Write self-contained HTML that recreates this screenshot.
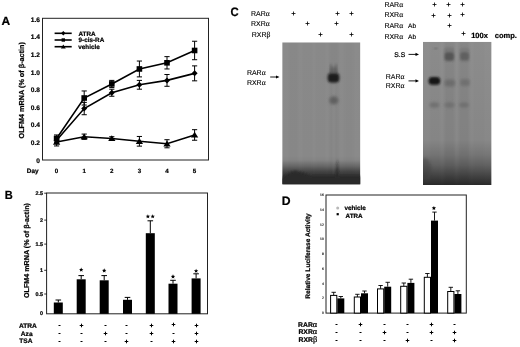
<!DOCTYPE html>
<html><head><meta charset="utf-8"><style>
html,body{margin:0;padding:0;background:#fff;width:520px;height:347px;overflow:hidden}
svg{display:block;font-family:"Liberation Sans", sans-serif}
text{opacity:0.995;text-rendering:geometricPrecision}
text[font-weight=bold]{stroke:#000;stroke-width:0.22px}
text[font-weight=normal]{stroke:#000;stroke-width:0.12px}
</style></head><body>
<svg width="520" height="347" viewBox="0 0 520 347">
<rect width="520" height="347" fill="#fff"/>
<text x="1.5" y="25.2" font-size="12" font-weight="bold" text-anchor="start" >A</text>
<rect x="42.5" y="18.3" width="166.0" height="141.7" fill="none" stroke="#222" stroke-width="1"/>
<text x="39.9" y="162.5" font-size="6.6" font-weight="bold" text-anchor="end" >0</text>
<text x="39.9" y="144.9" font-size="6.6" font-weight="bold" text-anchor="end" >0.2</text>
<text x="39.9" y="127.3" font-size="6.6" font-weight="bold" text-anchor="end" >0.4</text>
<text x="39.9" y="109.69999999999999" font-size="6.6" font-weight="bold" text-anchor="end" >0.6</text>
<text x="39.9" y="92.1" font-size="6.6" font-weight="bold" text-anchor="end" >0.8</text>
<text x="39.9" y="74.5" font-size="6.6" font-weight="bold" text-anchor="end" >1.0</text>
<text x="39.9" y="56.89999999999997" font-size="6.6" font-weight="bold" text-anchor="end" >1.2</text>
<text x="39.9" y="39.299999999999976" font-size="6.6" font-weight="bold" text-anchor="end" >1.4</text>
<text x="39.9" y="21.69999999999998" font-size="6.6" font-weight="bold" text-anchor="end" >1.6</text>
<text x="38.6" y="172.9" font-size="6.4" font-weight="bold" text-anchor="end" >Day</text>
<text x="56.6" y="172.9" font-size="6.2" font-weight="bold" text-anchor="middle" >0</text>
<text x="84.2" y="172.9" font-size="6.2" font-weight="bold" text-anchor="middle" >1</text>
<text x="111.80000000000001" y="172.9" font-size="6.2" font-weight="bold" text-anchor="middle" >2</text>
<text x="139.4" y="172.9" font-size="6.2" font-weight="bold" text-anchor="middle" >3</text>
<text x="167.0" y="172.9" font-size="6.2" font-weight="bold" text-anchor="middle" >4</text>
<text x="194.6" y="172.9" font-size="6.2" font-weight="bold" text-anchor="middle" >5</text>
<text x="0" y="0" font-size="7.25" font-weight="bold" text-anchor="middle" transform="translate(23.8,90.3) rotate(-90)">OLFM4 mRNA (% of &#946;-actin)</text>
<line x1="56.6" y1="134.96" x2="56.6" y2="142.0" stroke="#000" stroke-width="1"/>
<line x1="54.0" y1="134.96" x2="59.2" y2="134.96" stroke="#000" stroke-width="1"/>
<line x1="54.0" y1="142.0" x2="59.2" y2="142.0" stroke="#000" stroke-width="1"/>
<line x1="84.2" y1="90.96000000000001" x2="84.2" y2="105.03999999999999" stroke="#000" stroke-width="1"/>
<line x1="81.60000000000001" y1="90.96000000000001" x2="86.8" y2="90.96000000000001" stroke="#000" stroke-width="1"/>
<line x1="81.60000000000001" y1="105.03999999999999" x2="86.8" y2="105.03999999999999" stroke="#000" stroke-width="1"/>
<line x1="111.80000000000001" y1="80.39999999999999" x2="111.80000000000001" y2="87.44" stroke="#000" stroke-width="1"/>
<line x1="109.20000000000002" y1="80.39999999999999" x2="114.4" y2="80.39999999999999" stroke="#000" stroke-width="1"/>
<line x1="109.20000000000002" y1="87.44" x2="114.4" y2="87.44" stroke="#000" stroke-width="1"/>
<line x1="139.4" y1="61.03999999999999" x2="139.4" y2="76.88" stroke="#000" stroke-width="1"/>
<line x1="136.8" y1="61.03999999999999" x2="142.0" y2="61.03999999999999" stroke="#000" stroke-width="1"/>
<line x1="136.8" y1="76.88" x2="142.0" y2="76.88" stroke="#000" stroke-width="1"/>
<line x1="167.0" y1="56.639999999999986" x2="167.0" y2="68.96" stroke="#000" stroke-width="1"/>
<line x1="164.4" y1="56.639999999999986" x2="169.6" y2="56.639999999999986" stroke="#000" stroke-width="1"/>
<line x1="164.4" y1="68.96" x2="169.6" y2="68.96" stroke="#000" stroke-width="1"/>
<line x1="194.6" y1="41.239999999999995" x2="194.6" y2="59.72" stroke="#000" stroke-width="1"/>
<line x1="192.0" y1="41.239999999999995" x2="197.2" y2="41.239999999999995" stroke="#000" stroke-width="1"/>
<line x1="192.0" y1="59.72" x2="197.2" y2="59.72" stroke="#000" stroke-width="1"/>
<polyline points="56.60,138.48 84.20,98.00 111.80,83.92 139.40,68.96 167.00,62.80 194.60,50.48" fill="none" stroke="#000" stroke-width="1.6"/>
<line x1="56.6" y1="137.6" x2="56.6" y2="142.88" stroke="#000" stroke-width="1"/>
<line x1="54.0" y1="137.6" x2="59.2" y2="137.6" stroke="#000" stroke-width="1"/>
<line x1="54.0" y1="142.88" x2="59.2" y2="142.88" stroke="#000" stroke-width="1"/>
<line x1="84.2" y1="102.4" x2="84.2" y2="114.72" stroke="#000" stroke-width="1"/>
<line x1="81.60000000000001" y1="102.4" x2="86.8" y2="102.4" stroke="#000" stroke-width="1"/>
<line x1="81.60000000000001" y1="114.72" x2="86.8" y2="114.72" stroke="#000" stroke-width="1"/>
<line x1="111.80000000000001" y1="89.19999999999999" x2="111.80000000000001" y2="96.24" stroke="#000" stroke-width="1"/>
<line x1="109.20000000000002" y1="89.19999999999999" x2="114.4" y2="89.19999999999999" stroke="#000" stroke-width="1"/>
<line x1="109.20000000000002" y1="96.24" x2="114.4" y2="96.24" stroke="#000" stroke-width="1"/>
<line x1="139.4" y1="80.39999999999999" x2="139.4" y2="89.2" stroke="#000" stroke-width="1"/>
<line x1="136.8" y1="80.39999999999999" x2="142.0" y2="80.39999999999999" stroke="#000" stroke-width="1"/>
<line x1="136.8" y1="89.2" x2="142.0" y2="89.2" stroke="#000" stroke-width="1"/>
<line x1="167.0" y1="74.50399999999999" x2="167.0" y2="86.29599999999999" stroke="#000" stroke-width="1"/>
<line x1="164.4" y1="74.50399999999999" x2="169.6" y2="74.50399999999999" stroke="#000" stroke-width="1"/>
<line x1="164.4" y1="86.29599999999999" x2="169.6" y2="86.29599999999999" stroke="#000" stroke-width="1"/>
<line x1="194.6" y1="65.88" x2="194.6" y2="80.83999999999999" stroke="#000" stroke-width="1"/>
<line x1="192.0" y1="65.88" x2="197.2" y2="65.88" stroke="#000" stroke-width="1"/>
<line x1="192.0" y1="80.83999999999999" x2="197.2" y2="80.83999999999999" stroke="#000" stroke-width="1"/>
<polyline points="56.60,140.24 84.20,108.56 111.80,92.72 139.40,84.80 167.00,80.40 194.60,73.36" fill="none" stroke="#000" stroke-width="1.6"/>
<line x1="56.6" y1="138.04" x2="56.6" y2="145.95999999999998" stroke="#000" stroke-width="1"/>
<line x1="54.0" y1="138.04" x2="59.2" y2="138.04" stroke="#000" stroke-width="1"/>
<line x1="54.0" y1="145.95999999999998" x2="59.2" y2="145.95999999999998" stroke="#000" stroke-width="1"/>
<line x1="84.2" y1="134.07999999999998" x2="84.2" y2="139.35999999999999" stroke="#000" stroke-width="1"/>
<line x1="81.60000000000001" y1="134.07999999999998" x2="86.8" y2="134.07999999999998" stroke="#000" stroke-width="1"/>
<line x1="81.60000000000001" y1="139.35999999999999" x2="86.8" y2="139.35999999999999" stroke="#000" stroke-width="1"/>
<line x1="111.80000000000001" y1="136.72" x2="111.80000000000001" y2="140.24" stroke="#000" stroke-width="1"/>
<line x1="109.20000000000002" y1="136.72" x2="114.4" y2="136.72" stroke="#000" stroke-width="1"/>
<line x1="109.20000000000002" y1="140.24" x2="114.4" y2="140.24" stroke="#000" stroke-width="1"/>
<line x1="139.4" y1="136.456" x2="139.4" y2="146.136" stroke="#000" stroke-width="1"/>
<line x1="136.8" y1="136.456" x2="142.0" y2="136.456" stroke="#000" stroke-width="1"/>
<line x1="136.8" y1="146.136" x2="142.0" y2="146.136" stroke="#000" stroke-width="1"/>
<line x1="167.0" y1="139.712" x2="167.0" y2="147.808" stroke="#000" stroke-width="1"/>
<line x1="164.4" y1="139.712" x2="169.6" y2="139.712" stroke="#000" stroke-width="1"/>
<line x1="164.4" y1="147.808" x2="169.6" y2="147.808" stroke="#000" stroke-width="1"/>
<line x1="194.6" y1="129.68" x2="194.6" y2="140.23999999999998" stroke="#000" stroke-width="1"/>
<line x1="192.0" y1="129.68" x2="197.2" y2="129.68" stroke="#000" stroke-width="1"/>
<line x1="192.0" y1="140.23999999999998" x2="197.2" y2="140.23999999999998" stroke="#000" stroke-width="1"/>
<polyline points="56.60,142.00 84.20,136.72 111.80,138.48 139.40,141.30 167.00,143.76 194.60,134.96" fill="none" stroke="#000" stroke-width="1.6"/>
<rect x="53.80" y="135.68" width="5.6" height="5.6" fill="#000"/>
<rect x="81.40" y="95.20" width="5.6" height="5.6" fill="#000"/>
<rect x="109.00" y="81.12" width="5.6" height="5.6" fill="#000"/>
<rect x="136.60" y="66.16" width="5.6" height="5.6" fill="#000"/>
<rect x="164.20" y="60.00" width="5.6" height="5.6" fill="#000"/>
<rect x="191.80" y="47.68" width="5.6" height="5.6" fill="#000"/>
<polygon points="56.6,137.24 59.6,140.24 56.6,143.24 53.6,140.24" fill="#000"/>
<polygon points="84.2,105.56 87.2,108.56 84.2,111.56 81.2,108.56" fill="#000"/>
<polygon points="111.80000000000001,89.72 114.80000000000001,92.72 111.80000000000001,95.72 108.80000000000001,92.72" fill="#000"/>
<polygon points="139.4,81.8 142.4,84.8 139.4,87.8 136.4,84.8" fill="#000"/>
<polygon points="167.0,77.39999999999999 170.0,80.39999999999999 167.0,83.39999999999999 164.0,80.39999999999999" fill="#000"/>
<polygon points="194.6,70.36 197.6,73.36 194.6,76.36 191.6,73.36" fill="#000"/>
<polygon points="56.6,138.7 60.230000000000004,144.64 52.97,144.64" fill="#000"/>
<polygon points="84.2,133.42 87.83,139.35999999999999 80.57000000000001,139.35999999999999" fill="#000"/>
<polygon points="111.80000000000001,135.17999999999998 115.43,141.11999999999998 108.17000000000002,141.11999999999998" fill="#000"/>
<polygon points="139.4,137.99599999999998 143.03,143.93599999999998 135.77,143.93599999999998" fill="#000"/>
<polygon points="167.0,140.45999999999998 170.63,146.39999999999998 163.37,146.39999999999998" fill="#000"/>
<polygon points="194.6,131.65999999999997 198.23,137.59999999999997 190.97,137.59999999999997" fill="#000"/>
<line x1="54.6" y1="33.3" x2="71.7" y2="33.3" stroke="#000" stroke-width="1.6"/>
<polygon points="63.3,31.099999999999998 65.5,33.3 63.3,35.5 61.099999999999994,33.3" fill="#000"/>
<line x1="54.6" y1="40.0" x2="71.7" y2="40.0" stroke="#000" stroke-width="1.6"/>
<rect x="61.60" y="38.30" width="3.4" height="3.4" fill="#000"/>
<line x1="54.6" y1="46.7" x2="71.7" y2="46.7" stroke="#000" stroke-width="1.6"/>
<polygon points="63.3,44.5 65.72,48.46 60.879999999999995,48.46" fill="#000"/>
<text x="78.5" y="35.5" font-size="6.35" font-weight="bold" text-anchor="start" >ATRA</text>
<text x="78.5" y="42.2" font-size="6.35" font-weight="bold" text-anchor="start" >9-cis-RA</text>
<text x="78.3" y="49.1" font-size="6.35" font-weight="bold" text-anchor="start" >vehicle</text>
<text x="0" y="0" font-size="12" font-weight="bold" text-anchor="start" transform="translate(4.8,198.8) scale(0.92,1)">B</text>
<rect x="46.6" y="193.0" width="160.9" height="120.80000000000001" fill="none" stroke="#222" stroke-width="1"/>
<line x1="44.2" y1="193.2" x2="46.6" y2="193.2" stroke="#000" stroke-width="0.8"/>
<text x="43.0" y="195.2" font-size="5.4" font-weight="bold" text-anchor="end" >2.5</text>
<line x1="44.2" y1="220.1" x2="46.6" y2="220.1" stroke="#000" stroke-width="0.8"/>
<text x="43.0" y="222.1" font-size="5.4" font-weight="bold" text-anchor="end" >2</text>
<line x1="44.2" y1="244.1" x2="46.6" y2="244.1" stroke="#000" stroke-width="0.8"/>
<text x="43.0" y="246.1" font-size="5.4" font-weight="bold" text-anchor="end" >1.5</text>
<line x1="44.2" y1="270.3" x2="46.6" y2="270.3" stroke="#000" stroke-width="0.8"/>
<text x="43.0" y="272.3" font-size="5.4" font-weight="bold" text-anchor="end" >1</text>
<line x1="44.2" y1="294.0" x2="46.6" y2="294.0" stroke="#000" stroke-width="0.8"/>
<text x="43.0" y="296.0" font-size="5.4" font-weight="bold" text-anchor="end" >0.5</text>
<text x="43.0" y="314.6" font-size="5.4" font-weight="bold" text-anchor="end" >0</text>
<text x="0" y="0" font-size="7.15" font-weight="bold" text-anchor="middle" transform="translate(28.5,250.5) rotate(-90)">OLFM4 mRNA (% of &#946;-actin)</text>
<line x1="58.3" y1="300.0" x2="58.3" y2="302.5" stroke="#000" stroke-width="1"/>
<line x1="55.5" y1="300.0" x2="61.099999999999994" y2="300.0" stroke="#000" stroke-width="1"/>
<rect x="53.80" y="302.5" width="9" height="11.300000000000011" fill="#000"/>
<line x1="81.2" y1="275.6" x2="81.2" y2="279.3" stroke="#000" stroke-width="1"/>
<line x1="78.4" y1="275.6" x2="84.0" y2="275.6" stroke="#000" stroke-width="1"/>
<rect x="76.70" y="279.3" width="9" height="34.5" fill="#000"/>
<polygon points="81.20,267.50 81.81,268.96 83.39,269.09 82.18,270.12 82.55,271.66 81.20,270.84 79.85,271.66 80.22,270.12 79.01,269.09 80.59,268.96" fill="#000"/>
<line x1="104.2" y1="275.6" x2="104.2" y2="280.3" stroke="#000" stroke-width="1"/>
<line x1="101.4" y1="275.6" x2="107.0" y2="275.6" stroke="#000" stroke-width="1"/>
<rect x="99.70" y="280.3" width="9" height="33.5" fill="#000"/>
<polygon points="104.20,268.30 104.81,269.76 106.39,269.89 105.18,270.92 105.55,272.46 104.20,271.64 102.85,272.46 103.22,270.92 102.01,269.89 103.59,269.76" fill="#000"/>
<line x1="127.5" y1="297.4" x2="127.5" y2="299.8" stroke="#000" stroke-width="1"/>
<line x1="124.7" y1="297.4" x2="130.3" y2="297.4" stroke="#000" stroke-width="1"/>
<rect x="123.00" y="299.8" width="9" height="14.0" fill="#000"/>
<line x1="150.3" y1="220.8" x2="150.3" y2="233.2" stroke="#000" stroke-width="1"/>
<line x1="147.5" y1="220.8" x2="153.10000000000002" y2="220.8" stroke="#000" stroke-width="1"/>
<rect x="145.80" y="233.2" width="9" height="80.60000000000002" fill="#000"/>
<polygon points="147.90,214.20 148.51,215.66 150.09,215.79 148.88,216.82 149.25,218.36 147.90,217.53 146.55,218.36 146.92,216.82 145.71,215.79 147.29,215.66" fill="#000"/>
<polygon points="152.70,214.20 153.31,215.66 154.89,215.79 153.68,216.82 154.05,218.36 152.70,217.53 151.35,218.36 151.72,216.82 150.51,215.79 152.09,215.66" fill="#000"/>
<line x1="173.0" y1="280.3" x2="173.0" y2="283.7" stroke="#000" stroke-width="1"/>
<line x1="170.2" y1="280.3" x2="175.8" y2="280.3" stroke="#000" stroke-width="1"/>
<rect x="168.50" y="283.7" width="9" height="30.100000000000023" fill="#000"/>
<polygon points="173.00,274.30 173.61,275.76 175.19,275.89 173.98,276.92 174.35,278.46 173.00,277.64 171.65,278.46 172.02,276.92 170.81,275.89 172.39,275.76" fill="#000"/>
<line x1="196.1" y1="273.8" x2="196.1" y2="278.4" stroke="#000" stroke-width="1"/>
<line x1="193.29999999999998" y1="273.8" x2="198.9" y2="273.8" stroke="#000" stroke-width="1"/>
<rect x="191.60" y="278.4" width="9" height="35.400000000000034" fill="#000"/>
<polygon points="196.10,268.70 196.71,270.16 198.29,270.29 197.08,271.32 197.45,272.86 196.10,272.04 194.75,272.86 195.12,271.32 193.91,270.29 195.49,270.16" fill="#000"/>
<text x="36.8" y="328.0" font-size="6.6" font-weight="bold" text-anchor="end" >ATRA</text>
<text x="32.6" y="335.6" font-size="6.6" font-weight="bold" text-anchor="end" >Aza</text>
<text x="32.5" y="343.2" font-size="6.6" font-weight="bold" text-anchor="end" >TSA</text>
<line x1="58.5" y1="325.5" x2="60.5" y2="325.5" stroke="#000" stroke-width="1.0"/>
<line x1="79.7" y1="325.5" x2="83.3" y2="325.5" stroke="#000" stroke-width="1.0"/>
<line x1="81.5" y1="323.7" x2="81.5" y2="327.3" stroke="#000" stroke-width="1.0"/>
<line x1="104.5" y1="325.5" x2="106.5" y2="325.5" stroke="#000" stroke-width="1.0"/>
<line x1="125.5" y1="325.5" x2="127.5" y2="325.5" stroke="#000" stroke-width="1.0"/>
<line x1="149.7" y1="325.5" x2="153.3" y2="325.5" stroke="#000" stroke-width="1.0"/>
<line x1="151.5" y1="323.7" x2="151.5" y2="327.3" stroke="#000" stroke-width="1.0"/>
<line x1="171.7" y1="324.5" x2="175.3" y2="324.5" stroke="#000" stroke-width="1.0"/>
<line x1="173.5" y1="322.7" x2="173.5" y2="326.3" stroke="#000" stroke-width="1.0"/>
<line x1="194.7" y1="325.5" x2="198.3" y2="325.5" stroke="#000" stroke-width="1.0"/>
<line x1="196.5" y1="323.7" x2="196.5" y2="327.3" stroke="#000" stroke-width="1.0"/>
<line x1="58.5" y1="333.5" x2="60.5" y2="333.5" stroke="#000" stroke-width="1.0"/>
<line x1="80.5" y1="333.5" x2="82.5" y2="333.5" stroke="#000" stroke-width="1.0"/>
<line x1="103.7" y1="333.5" x2="107.3" y2="333.5" stroke="#000" stroke-width="1.0"/>
<line x1="105.5" y1="331.7" x2="105.5" y2="335.3" stroke="#000" stroke-width="1.0"/>
<line x1="125.5" y1="333.5" x2="127.5" y2="333.5" stroke="#000" stroke-width="1.0"/>
<line x1="149.7" y1="333.5" x2="153.3" y2="333.5" stroke="#000" stroke-width="1.0"/>
<line x1="151.5" y1="331.7" x2="151.5" y2="335.3" stroke="#000" stroke-width="1.0"/>
<line x1="172.5" y1="333.5" x2="174.5" y2="333.5" stroke="#000" stroke-width="1.0"/>
<line x1="194.7" y1="333.5" x2="198.3" y2="333.5" stroke="#000" stroke-width="1.0"/>
<line x1="196.5" y1="331.7" x2="196.5" y2="335.3" stroke="#000" stroke-width="1.0"/>
<line x1="58.5" y1="341.5" x2="60.5" y2="341.5" stroke="#000" stroke-width="1.0"/>
<line x1="80.5" y1="341.5" x2="82.5" y2="341.5" stroke="#000" stroke-width="1.0"/>
<line x1="104.5" y1="341.5" x2="106.5" y2="341.5" stroke="#000" stroke-width="1.0"/>
<line x1="124.7" y1="341.5" x2="128.3" y2="341.5" stroke="#000" stroke-width="1.0"/>
<line x1="126.5" y1="339.7" x2="126.5" y2="343.3" stroke="#000" stroke-width="1.0"/>
<line x1="150.5" y1="341.5" x2="152.5" y2="341.5" stroke="#000" stroke-width="1.0"/>
<line x1="171.7" y1="341.5" x2="175.3" y2="341.5" stroke="#000" stroke-width="1.0"/>
<line x1="173.5" y1="339.7" x2="173.5" y2="343.3" stroke="#000" stroke-width="1.0"/>
<line x1="194.7" y1="341.5" x2="198.3" y2="341.5" stroke="#000" stroke-width="1.0"/>
<line x1="196.5" y1="339.7" x2="196.5" y2="343.3" stroke="#000" stroke-width="1.0"/>
<text x="0" y="0" font-size="12.2" font-weight="bold" text-anchor="start" transform="translate(230.5,15.6) scale(0.93,1)">C</text>
<text x="251.0" y="15.7" font-size="7" font-weight="normal" text-anchor="start" >RAR<tspan font-family="Liberation Serif" font-size="7.6">&#945;</tspan></text>
<text x="251.0" y="26.2" font-size="7" font-weight="normal" text-anchor="start" >RXR<tspan font-family="Liberation Serif" font-size="7.6">&#945;</tspan></text>
<text x="251.8" y="37.4" font-size="7" font-weight="normal" text-anchor="start" >RXR<tspan font-family="Liberation Serif" font-size="7.6">&#946;</tspan></text>
<line x1="291.5" y1="13.5" x2="295.5" y2="13.5" stroke="#000" stroke-width="0.8"/>
<line x1="293.5" y1="11.5" x2="293.5" y2="15.5" stroke="#000" stroke-width="0.8"/>
<line x1="335.5" y1="13.5" x2="339.5" y2="13.5" stroke="#000" stroke-width="0.8"/>
<line x1="337.5" y1="11.5" x2="337.5" y2="15.5" stroke="#000" stroke-width="0.8"/>
<line x1="349.5" y1="13.5" x2="353.5" y2="13.5" stroke="#000" stroke-width="0.8"/>
<line x1="351.5" y1="11.5" x2="351.5" y2="15.5" stroke="#000" stroke-width="0.8"/>
<line x1="305.5" y1="23.5" x2="309.5" y2="23.5" stroke="#000" stroke-width="0.8"/>
<line x1="307.5" y1="21.5" x2="307.5" y2="25.5" stroke="#000" stroke-width="0.8"/>
<line x1="334.5" y1="23.5" x2="338.5" y2="23.5" stroke="#000" stroke-width="0.8"/>
<line x1="336.5" y1="21.5" x2="336.5" y2="25.5" stroke="#000" stroke-width="0.8"/>
<line x1="318.5" y1="34.5" x2="322.5" y2="34.5" stroke="#000" stroke-width="0.8"/>
<line x1="320.5" y1="32.5" x2="320.5" y2="36.5" stroke="#000" stroke-width="0.8"/>
<line x1="349.5" y1="34.5" x2="353.5" y2="34.5" stroke="#000" stroke-width="0.8"/>
<line x1="351.5" y1="32.5" x2="351.5" y2="36.5" stroke="#000" stroke-width="0.8"/>
<defs>
<linearGradient id="g1" gradientUnits="userSpaceOnUse" x1="0" y1="42.3" x2="0" y2="184.4">
<stop offset="0" stop-color="#8b8b8b"/><stop offset="0.80" stop-color="#8a8a8a"/><stop offset="0.83" stop-color="#858585"/>
<stop offset="0.871" stop-color="#686868"/><stop offset="0.913" stop-color="#424242"/><stop offset="0.955" stop-color="#2c2c2c"/><stop offset="1" stop-color="#252525"/>
</linearGradient>
<linearGradient id="g2" gradientUnits="userSpaceOnUse" x1="0" y1="42" x2="0" y2="185">
<stop offset="0" stop-color="#8e8e8e"/><stop offset="0.685" stop-color="#888"/>
<stop offset="0.79" stop-color="#767676"/><stop offset="0.86" stop-color="#626262"/><stop offset="0.93" stop-color="#464646"/><stop offset="1" stop-color="#2a2a2a"/>
</linearGradient>
<clipPath id="c1"><rect x="282.2" y="42.3" width="78.2" height="142.1"/></clipPath>
<clipPath id="c2"><rect x="423" y="41.8" width="68.6" height="143.2"/></clipPath>
<filter id="bl1" x="-50%" y="-50%" width="200%" height="200%"><feGaussianBlur stdDeviation="1.3"/></filter>
<filter id="bl2" x="-50%" y="-50%" width="200%" height="200%"><feGaussianBlur stdDeviation="1.8"/></filter>
<filter id="bl3" x="-50%" y="-50%" width="200%" height="200%"><feGaussianBlur stdDeviation="0.8"/></filter>
</defs>
<g clip-path="url(#c1)">
<rect x="282.2" y="42.3" width="78.2" height="142.1" fill="url(#g1)"/>
<rect x="289.0" y="42.3" width="9" height="142" fill="#000" opacity="0.015" filter="url(#bl3)"/>
<rect x="302.8" y="42.3" width="9" height="142" fill="#000" opacity="0.01" filter="url(#bl3)"/>
<rect x="315.8" y="42.3" width="9" height="142" fill="#000" opacity="0.01" filter="url(#bl3)"/>
<rect x="329.5" y="42.3" width="9" height="142" fill="#000" opacity="0.03" filter="url(#bl3)"/>
<rect x="344.5" y="42.3" width="9" height="142" fill="#000" opacity="0.015" filter="url(#bl3)"/>
<path d="M282,185 L282,179 Q288,172 295,171 Q302,172 311,176 L336,176 L337.2,159 L338.4,176 L361,176 L361,185 Z" fill="#2a2a2a" filter="url(#bl1)"/>
<ellipse cx="333.6" cy="71" rx="3.5" ry="4.5" fill="#444" opacity="0.5" filter="url(#bl2)"/>
<rect x="330" y="64" width="1.6" height="10" fill="#333" opacity="0.35" filter="url(#bl3)"/>
<rect x="335.6" y="64" width="1.6" height="10" fill="#333" opacity="0.35" filter="url(#bl3)"/>
<rect x="333" y="84" width="1.5" height="90" fill="#fff" opacity="0.06" filter="url(#bl3)"/>
<ellipse cx="333.5" cy="77.5" rx="7" ry="6" fill="#555" opacity="0.45" filter="url(#bl2)"/>
<rect x="328" y="73.6" width="11" height="8.6" rx="3" fill="#1e1e1e" filter="url(#bl1)"/>
<ellipse cx="333.8" cy="100.3" rx="4.6" ry="4" fill="#606060" filter="url(#bl2)"/>
</g>
<text x="246.9" y="75.3" font-size="7" font-weight="normal" text-anchor="start" >RAR<tspan font-family="Liberation Serif" font-size="7.6">&#945;</tspan></text>
<text x="246.9" y="84.5" font-size="7" font-weight="normal" text-anchor="start" >RXR<tspan font-family="Liberation Serif" font-size="7.6">&#945;</tspan></text>
<line x1="270.2" y1="77" x2="277" y2="77" stroke="#000" stroke-width="0.9"/>
<polygon points="279.5,77 276,75.4 276,78.6" fill="#000"/>
<text x="384.4" y="7.2" font-size="7" font-weight="normal" text-anchor="start" >RAR<tspan font-family="Liberation Serif" font-size="7.6">&#945;</tspan></text>
<text x="384.4" y="17.3" font-size="7" font-weight="normal" text-anchor="start" >RXR<tspan font-family="Liberation Serif" font-size="7.6">&#945;</tspan></text>
<text x="384.4" y="28.3" font-size="7" font-weight="normal" text-anchor="start" >RAR<tspan font-family="Liberation Serif" font-size="7.6">&#945;</tspan><tspan x="408" font-size="6.6">Ab</tspan></text>
<text x="384.4" y="38.8" font-size="7" font-weight="normal" text-anchor="start" >RXR<tspan font-family="Liberation Serif" font-size="7.6">&#945;</tspan><tspan x="408" font-size="6.6">Ab</tspan></text>
<line x1="432.5" y1="4.5" x2="436.5" y2="4.5" stroke="#000" stroke-width="0.8"/>
<line x1="434.5" y1="2.5" x2="434.5" y2="6.5" stroke="#000" stroke-width="0.8"/>
<line x1="446.5" y1="4.5" x2="450.5" y2="4.5" stroke="#000" stroke-width="0.8"/>
<line x1="448.5" y1="2.5" x2="448.5" y2="6.5" stroke="#000" stroke-width="0.8"/>
<line x1="460.5" y1="4.5" x2="464.5" y2="4.5" stroke="#000" stroke-width="0.8"/>
<line x1="462.5" y1="2.5" x2="462.5" y2="6.5" stroke="#000" stroke-width="0.8"/>
<line x1="431.5" y1="15.5" x2="435.5" y2="15.5" stroke="#000" stroke-width="0.8"/>
<line x1="433.5" y1="13.5" x2="433.5" y2="17.5" stroke="#000" stroke-width="0.8"/>
<line x1="447.5" y1="15.5" x2="451.5" y2="15.5" stroke="#000" stroke-width="0.8"/>
<line x1="449.5" y1="13.5" x2="449.5" y2="17.5" stroke="#000" stroke-width="0.8"/>
<line x1="460.5" y1="14.5" x2="464.5" y2="14.5" stroke="#000" stroke-width="0.8"/>
<line x1="462.5" y1="12.5" x2="462.5" y2="16.5" stroke="#000" stroke-width="0.8"/>
<line x1="447.5" y1="25.5" x2="451.5" y2="25.5" stroke="#000" stroke-width="0.8"/>
<line x1="449.5" y1="23.5" x2="449.5" y2="27.5" stroke="#000" stroke-width="0.8"/>
<line x1="461.5" y1="33.5" x2="465.5" y2="33.5" stroke="#000" stroke-width="0.8"/>
<line x1="463.5" y1="31.5" x2="463.5" y2="35.5" stroke="#000" stroke-width="0.8"/>
<text x="471.2" y="37.6" font-size="7.5" font-weight="bold" text-anchor="start" >100x</text>
<text x="494.8" y="37.6" font-size="7.5" font-weight="bold" text-anchor="start" >comp.</text>
<g clip-path="url(#c2)">
<rect x="423" y="41.8" width="68.6" height="143.2" fill="url(#g2)"/>
<ellipse cx="425" cy="168" rx="6" ry="10" fill="#333" opacity="0.35" filter="url(#bl2)"/>
<rect x="430" y="42" width="10" height="142" fill="#000" opacity="0.02" filter="url(#bl3)"/>
<rect x="444.5" y="42" width="10" height="142" fill="#000" opacity="0.05" filter="url(#bl3)"/>
<rect x="459" y="42" width="10" height="142" fill="#000" opacity="0.05" filter="url(#bl3)"/>
<rect x="474" y="42" width="10" height="142" fill="#000" opacity="0.01" filter="url(#bl3)"/>
<rect x="428.6" y="77" width="11.6" height="7.8" rx="3.5" fill="#161616" filter="url(#bl1)"/>
<rect x="444.2" y="47.5" width="9.8" height="14" rx="2" fill="#777" filter="url(#bl1)"/>
<rect x="459.8" y="47.8" width="9.4" height="14" rx="2" fill="#7a7a7a" filter="url(#bl1)"/>
<rect x="444.8" y="52.5" width="9" height="8" rx="2.5" fill="#545454" filter="url(#bl1)"/>
<rect x="460.3" y="52.3" width="8.6" height="8" rx="2.5" fill="#606060" filter="url(#bl1)"/>
<rect x="434.3" y="47.8" width="3" height="1.4" fill="#666" filter="url(#bl3)"/>
<rect x="444.5" y="79.5" width="10.5" height="7" rx="2.5" fill="#6c6c6c" filter="url(#bl2)"/>
<rect x="460.3" y="79" width="9.4" height="7" rx="2.5" fill="#707070" filter="url(#bl2)"/>
<ellipse cx="434.4" cy="105" rx="5" ry="2.8" fill="#707070" filter="url(#bl2)"/>
<ellipse cx="449.5" cy="105" rx="5" ry="2.8" fill="#707070" filter="url(#bl2)"/>
<ellipse cx="464" cy="105" rx="5" ry="2.8" fill="#707070" filter="url(#bl2)"/>
</g>
<text x="394.3" y="57.2" font-size="6.8" font-weight="normal" text-anchor="start" style="stroke:#000;stroke-width:0.22px">S.S</text>
<line x1="408.5" y1="54.4" x2="416.5" y2="54.4" stroke="#000" stroke-width="0.9"/>
<polygon points="419,54.4 415.5,52.8 415.5,56" fill="#000"/>
<text x="385.7" y="78.5" font-size="7" font-weight="normal" text-anchor="start" >RAR<tspan font-family="Liberation Serif" font-size="7.6">&#945;</tspan></text>
<text x="385.7" y="88" font-size="7" font-weight="normal" text-anchor="start" >RXR<tspan font-family="Liberation Serif" font-size="7.6">&#945;</tspan></text>
<line x1="408.5" y1="80.9" x2="416.5" y2="80.9" stroke="#000" stroke-width="0.9"/>
<polygon points="419,80.9 415.5,79.3 415.5,82.5" fill="#000"/>
<text x="281.8" y="205.0" font-size="12.2" font-weight="bold" text-anchor="start" >D</text>
<rect x="326.0" y="195.0" width="140.3" height="118.10000000000002" fill="none" stroke="#222" stroke-width="1"/>
<text x="323.8" y="314.09999999999997" font-size="3.4" font-weight="normal" text-anchor="end" >0</text>
<text x="323.8" y="299.34" font-size="3.4" font-weight="normal" text-anchor="end" >2</text>
<text x="323.8" y="284.58" font-size="3.4" font-weight="normal" text-anchor="end" >4</text>
<text x="323.8" y="269.82" font-size="3.4" font-weight="normal" text-anchor="end" >6</text>
<text x="323.8" y="255.05999999999997" font-size="3.4" font-weight="normal" text-anchor="end" >8</text>
<text x="323.8" y="240.29999999999995" font-size="3.4" font-weight="normal" text-anchor="end" >10</text>
<text x="323.8" y="225.53999999999996" font-size="3.4" font-weight="normal" text-anchor="end" >12</text>
<text x="323.8" y="210.77999999999997" font-size="3.4" font-weight="normal" text-anchor="end" >14</text>
<text x="323.8" y="196.01999999999998" font-size="3.4" font-weight="normal" text-anchor="end" >16</text>
<text x="0" y="0" font-size="6.6" font-weight="bold" text-anchor="middle" transform="translate(310.4,256) rotate(-90)">Relative Luciferase Activity</text>
<circle cx="337.7" cy="208" r="1.5" fill="#b8b8b8"/>
<rect x="336.6" y="213.1" width="2.2" height="2.2" fill="#000"/>
<text x="344.4" y="210.0" font-size="6.3" font-weight="bold" text-anchor="start" >vehicle</text>
<text x="345.6" y="217.5" font-size="6.3" font-weight="bold" text-anchor="start" >ATRA</text>
<line x1="333.70000000000005" y1="292.3" x2="333.70000000000005" y2="295.4" stroke="#000" stroke-width="0.9"/>
<line x1="331.50000000000006" y1="292.3" x2="335.90000000000003" y2="292.3" stroke="#000" stroke-width="0.9"/>
<rect x="330.60" y="295.4" width="6.2" height="17.700000000000045" fill="#fff" stroke="#000" stroke-width="1"/>
<line x1="340.8" y1="296.5" x2="340.8" y2="298.4" stroke="#000" stroke-width="0.9"/>
<line x1="338.6" y1="296.5" x2="343.0" y2="296.5" stroke="#000" stroke-width="0.9"/>
<rect x="337.30" y="298.4" width="7" height="14.700000000000045" fill="#000"/>
<line x1="357.40000000000003" y1="294.3" x2="357.40000000000003" y2="297.0" stroke="#000" stroke-width="0.9"/>
<line x1="355.20000000000005" y1="294.3" x2="359.6" y2="294.3" stroke="#000" stroke-width="0.9"/>
<rect x="354.30" y="297.0" width="6.2" height="16.100000000000023" fill="#fff" stroke="#000" stroke-width="1"/>
<line x1="364.5" y1="291.0" x2="364.5" y2="293.3" stroke="#000" stroke-width="0.9"/>
<line x1="362.3" y1="291.0" x2="366.7" y2="291.0" stroke="#000" stroke-width="0.9"/>
<rect x="361.00" y="293.3" width="7" height="19.80000000000001" fill="#000"/>
<line x1="380.6" y1="285.5" x2="380.6" y2="288.9" stroke="#000" stroke-width="0.9"/>
<line x1="378.40000000000003" y1="285.5" x2="382.8" y2="285.5" stroke="#000" stroke-width="0.9"/>
<rect x="377.50" y="288.9" width="6.2" height="24.200000000000045" fill="#fff" stroke="#000" stroke-width="1"/>
<line x1="387.7" y1="282.3" x2="387.7" y2="286.7" stroke="#000" stroke-width="0.9"/>
<line x1="385.5" y1="282.3" x2="389.9" y2="282.3" stroke="#000" stroke-width="0.9"/>
<rect x="384.20" y="286.7" width="7" height="26.400000000000034" fill="#000"/>
<line x1="403.8" y1="283.0" x2="403.8" y2="286.3" stroke="#000" stroke-width="0.9"/>
<line x1="401.6" y1="283.0" x2="406.0" y2="283.0" stroke="#000" stroke-width="0.9"/>
<rect x="400.70" y="286.3" width="6.2" height="26.80000000000001" fill="#fff" stroke="#000" stroke-width="1"/>
<line x1="410.9" y1="279.2" x2="410.9" y2="282.9" stroke="#000" stroke-width="0.9"/>
<line x1="408.7" y1="279.2" x2="413.09999999999997" y2="279.2" stroke="#000" stroke-width="0.9"/>
<rect x="407.40" y="282.9" width="7" height="30.200000000000045" fill="#000"/>
<line x1="427.40000000000003" y1="273.5" x2="427.40000000000003" y2="277.3" stroke="#000" stroke-width="0.9"/>
<line x1="425.20000000000005" y1="273.5" x2="429.6" y2="273.5" stroke="#000" stroke-width="0.9"/>
<rect x="424.30" y="277.3" width="6.2" height="35.80000000000001" fill="#fff" stroke="#000" stroke-width="1"/>
<line x1="434.5" y1="212.1" x2="434.5" y2="220.6" stroke="#000" stroke-width="0.9"/>
<line x1="432.3" y1="212.1" x2="436.7" y2="212.1" stroke="#000" stroke-width="0.9"/>
<rect x="431.00" y="220.6" width="7" height="92.50000000000003" fill="#000"/>
<line x1="450.8" y1="287.3" x2="450.8" y2="291.5" stroke="#000" stroke-width="0.9"/>
<line x1="448.6" y1="287.3" x2="453.0" y2="287.3" stroke="#000" stroke-width="0.9"/>
<rect x="447.70" y="291.5" width="6.2" height="21.600000000000023" fill="#fff" stroke="#000" stroke-width="1"/>
<line x1="457.9" y1="290.8" x2="457.9" y2="294.0" stroke="#000" stroke-width="0.9"/>
<line x1="455.7" y1="290.8" x2="460.09999999999997" y2="290.8" stroke="#000" stroke-width="0.9"/>
<rect x="454.40" y="294.0" width="7" height="19.100000000000023" fill="#000"/>
<polygon points="433.90,205.90 434.51,207.36 436.09,207.49 434.88,208.52 435.25,210.06 433.90,209.23 432.55,210.06 432.92,208.52 431.71,207.49 433.29,207.36" fill="#000"/>
<text x="317.2" y="326.6" font-size="6.8" font-weight="bold" text-anchor="end" >RAR<tspan font-family="Liberation Serif" font-weight="normal" font-size="8.4">&#945;</tspan></text>
<text x="317.2" y="334.4" font-size="6.8" font-weight="bold" text-anchor="end" >RXR<tspan font-family="Liberation Serif" font-weight="normal" font-size="8.4">&#945;</tspan></text>
<text x="317.2" y="341.9" font-size="6.8" font-weight="bold" text-anchor="end" >RXR<tspan font-family="Liberation Serif" font-weight="normal" font-size="8.4">&#946;</tspan></text>
<line x1="335.5" y1="324.5" x2="337.5" y2="324.5" stroke="#000" stroke-width="1.0"/>
<line x1="358.7" y1="324.5" x2="362.3" y2="324.5" stroke="#000" stroke-width="1.0"/>
<line x1="360.5" y1="322.7" x2="360.5" y2="326.3" stroke="#000" stroke-width="1.0"/>
<line x1="383.5" y1="324.5" x2="385.5" y2="324.5" stroke="#000" stroke-width="1.0"/>
<line x1="406.5" y1="324.5" x2="408.5" y2="324.5" stroke="#000" stroke-width="1.0"/>
<line x1="429.7" y1="324.5" x2="433.3" y2="324.5" stroke="#000" stroke-width="1.0"/>
<line x1="431.5" y1="322.7" x2="431.5" y2="326.3" stroke="#000" stroke-width="1.0"/>
<line x1="453.5" y1="324.5" x2="455.5" y2="324.5" stroke="#000" stroke-width="1.0"/>
<line x1="335.5" y1="332.5" x2="337.5" y2="332.5" stroke="#000" stroke-width="1.0"/>
<line x1="359.5" y1="332.5" x2="361.5" y2="332.5" stroke="#000" stroke-width="1.0"/>
<line x1="382.7" y1="332.5" x2="386.3" y2="332.5" stroke="#000" stroke-width="1.0"/>
<line x1="384.5" y1="330.7" x2="384.5" y2="334.3" stroke="#000" stroke-width="1.0"/>
<line x1="406.5" y1="332.5" x2="408.5" y2="332.5" stroke="#000" stroke-width="1.0"/>
<line x1="429.7" y1="332.5" x2="433.3" y2="332.5" stroke="#000" stroke-width="1.0"/>
<line x1="431.5" y1="330.7" x2="431.5" y2="334.3" stroke="#000" stroke-width="1.0"/>
<line x1="452.7" y1="332.5" x2="456.3" y2="332.5" stroke="#000" stroke-width="1.0"/>
<line x1="454.5" y1="330.7" x2="454.5" y2="334.3" stroke="#000" stroke-width="1.0"/>
<line x1="335.5" y1="340.5" x2="337.5" y2="340.5" stroke="#000" stroke-width="1.0"/>
<line x1="359.5" y1="340.5" x2="361.5" y2="340.5" stroke="#000" stroke-width="1.0"/>
<line x1="383.5" y1="340.5" x2="385.5" y2="340.5" stroke="#000" stroke-width="1.0"/>
<line x1="405.7" y1="340.5" x2="409.3" y2="340.5" stroke="#000" stroke-width="1.0"/>
<line x1="407.5" y1="338.7" x2="407.5" y2="342.3" stroke="#000" stroke-width="1.0"/>
<line x1="430.5" y1="340.5" x2="432.5" y2="340.5" stroke="#000" stroke-width="1.0"/>
<line x1="452.7" y1="340.5" x2="456.3" y2="340.5" stroke="#000" stroke-width="1.0"/>
<line x1="454.5" y1="338.7" x2="454.5" y2="342.3" stroke="#000" stroke-width="1.0"/>
</svg></body></html>
